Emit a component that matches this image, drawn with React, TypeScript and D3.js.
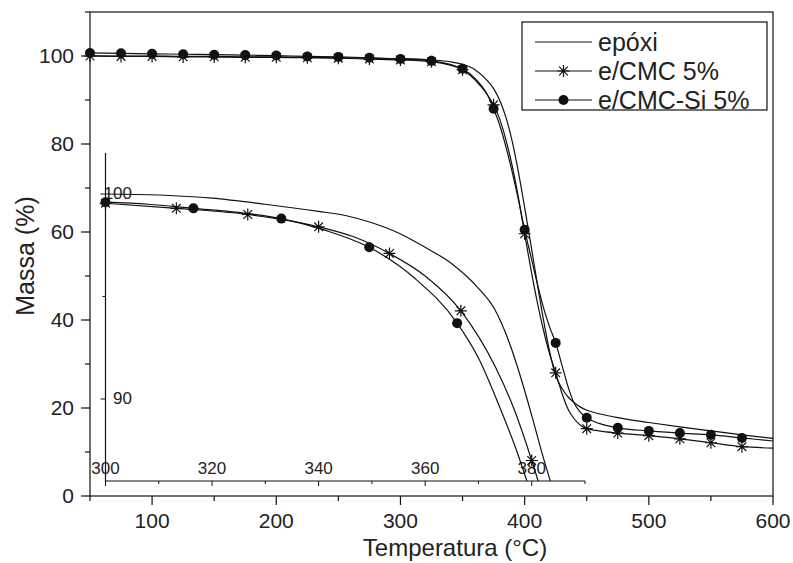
import React, { useRef, useEffect } from 'react';
import * as d3 from 'd3';

// main chart temperatures (°C), shared by the three series
const temps = [50, 75, 100, 125, 150, 175, 200, 225, 250, 275, 300, 325, 340, 350, 360, 370, 375, 380, 385, 390, 395, 400, 405, 410, 415, 420, 425, 430, 435, 440, 445, 450, 460, 475, 500, 525, 550, 575, 600];
const epoxi = [100.1, 100.0, 100.0, 99.9, 99.9, 99.8, 99.8, 99.7, 99.6, 99.5, 99.4, 99.1, 98.7, 98.1, 96.9, 94.4, 92.6, 89.9, 86.0, 80.6, 73.6, 65.6, 57.2, 48.6, 40.3, 33.0, 27.4, 24.5, 22.5, 21.2, 20.2, 19.5, 18.7, 17.8, 16.7, 15.7, 14.8, 13.9, 13.1];
const cmc = [100.0, 99.9, 99.9, 99.8, 99.8, 99.7, 99.7, 99.6, 99.5, 99.3, 99.1, 98.7, 97.9, 96.9, 94.6, 91.2, 88.9, 85.6, 80.9, 75.0, 67.8, 59.6, 51.6, 44.3, 37.9, 32.4, 28.0, 23.4, 19.7, 17.5, 16.1, 15.3, 14.8, 14.3, 13.7, 13.0, 12.1, 11.2, 10.9];
const cmcSi = [100.7, 100.6, 100.5, 100.4, 100.3, 100.2, 100.1, 99.9, 99.8, 99.6, 99.3, 98.9, 98.1, 97.1, 94.9, 91.2, 88.0, 84.2, 79.3, 73.6, 67.3, 60.5, 54.5, 48.5, 43.0, 38.5, 34.8, 29.8, 24.8, 21.0, 19.0, 17.8, 16.5, 15.5, 14.8, 14.3, 13.9, 13.2, 12.5];

// inset (zoom 300-390 °C)
const insetEpoxiT = [300, 310, 320, 330, 340, 345, 350, 355, 360, 365, 370, 373, 376, 378, 380, 382, 383.5];
const insetEpoxiV = [100.0, 99.95, 99.8, 99.5, 99.15, 98.95, 98.6, 98.1, 97.4, 96.6, 95.4, 94.4, 92.6, 91.0, 89.2, 87.3, 86.0];
const insetCmcT = [300, 313.3, 326.7, 340, 346.7, 353.3, 360, 366.7, 373.3, 376.7, 380, 381.2];
const insetCmcV = [99.55, 99.3, 99.0, 98.4, 97.9, 97.1, 96.0, 94.3, 91.5, 89.5, 87.0, 86.0];
const insetCmcMarks = [300, 313.3, 326.7, 340, 353.3, 366.7, 380];
const insetSiT = [300, 308, 316.5, 325, 333, 341, 349.5, 358, 366, 370, 374, 377, 379.1];
const insetSiV = [99.6, 99.5, 99.3, 99.1, 98.8, 98.25, 97.4, 95.9, 93.7, 92.0, 89.6, 87.6, 86.0];
const insetSiMarks = [300, 316.5, 333, 349.5, 366];

const xTicks = [100, 200, 300, 400, 500, 600];
const yTicks = [0, 20, 40, 60, 80, 100];
const insetXTicks = [300, 320, 340, 360, 380];
const insetYTicks = [90, 100];
const legendLabels = ['epóxi', 'e/CMC 5%', 'e/CMC-Si 5%'];

const FONT = '"Liberation Sans", Arial, sans-serif';
const INK = '#111';

const TgaChart = () => {
  const svgRef = useRef<SVGSVGElement>(null);

  useEffect(() => {
    const svg = d3.select(svgRef.current);
    svg.selectAll('*').remove();

    const x = d3.scaleLinear().domain([50, 600]).range([90, 773]);
    const y = d3.scaleLinear().domain([0, 110]).range([496, 12]);
    const ix = d3.scaleLinear().domain([300, 390]).range([105.5, 585]);
    const iy = d3.scaleLinear().domain([86, 102]).range([481, 153]);

    const star = (g, cx, cy, r) => {
      const d = r * 0.72;
      const p = `M${cx - r},${cy}L${cx + r},${cy}M${cx},${cy - r}L${cx},${cy + r}` +
        `M${cx - d},${cy - d}L${cx + d},${cy + d}M${cx - d},${cy + d}L${cx + d},${cy - d}`;
      g.append('path').attr('d', p).attr('stroke', INK).attr('stroke-width', 1.2).attr('fill', 'none');
    };
    const dot = (g, cx, cy, r) => {
      g.append('circle').attr('cx', cx).attr('cy', cy).attr('r', r).attr('fill', INK);
    };

    // frame
    svg.append('rect').attr('x', 90).attr('y', 12).attr('width', 683).attr('height', 484)
      .attr('fill', 'none').attr('stroke', INK).attr('stroke-width', 1.2);

    // main x axis ticks
    const xAxis = svg.append('g');
    d3.range(50, 601, 50).forEach((t) => {
      const major = t % 100 === 0;
      xAxis.append('line').attr('x1', x(t)).attr('x2', x(t)).attr('y1', 496).attr('y2', 496 + (major ? 9 : 5))
        .attr('stroke', INK).attr('stroke-width', 1.2);
    });
    xTicks.forEach((t) => {
      xAxis.append('text').attr('x', x(t)).attr('y', 528).attr('text-anchor', 'middle')
        .attr('font-size', 21).attr('font-family', FONT).attr('fill', '#222').text(t);
    });
    // main y axis ticks
    const yAxis = svg.append('g');
    d3.range(0, 111, 10).forEach((v) => {
      const major = v % 20 === 0;
      yAxis.append('line').attr('x1', 90 - (major ? 9 : 5)).attr('x2', 90).attr('y1', y(v)).attr('y2', y(v))
        .attr('stroke', INK).attr('stroke-width', 1.2);
    });
    yTicks.forEach((v) => {
      yAxis.append('text').attr('x', 74).attr('y', y(v) + 7).attr('text-anchor', 'end')
        .attr('font-size', 21).attr('font-family', FONT).attr('fill', '#222').text(v);
    });

    svg.append('text').attr('x', 455).attr('y', 556).attr('text-anchor', 'middle')
      .attr('font-size', 24).attr('font-family', FONT).attr('fill', '#222').text('Temperatura (°C)');
    svg.append('text').attr('transform', 'translate(34,256) rotate(-90)').attr('text-anchor', 'middle')
      .attr('font-size', 25).attr('font-family', FONT).attr('fill', '#222').text('Massa (%)');

    // main series
    const line = d3.line<[number, number]>().x((d) => x(d[0])).y((d) => y(d[1])).curve(d3.curveMonotoneX);
    const series = [
      { vals: epoxi, mark: null },
      { vals: cmc, mark: 'star' },
      { vals: cmcSi, mark: 'dot' },
    ];
    const main = svg.append('g');
    series.forEach((s) => {
      const pts = temps.map((t, i) => [t, s.vals[i]] as [number, number]);
      main.append('path').attr('d', line(pts)).attr('fill', 'none').attr('stroke', INK).attr('stroke-width', 1.2);
    });
    series.forEach((s) => {
      temps.forEach((t, i) => {
        if (t % 25 !== 0 || t > 575) return;
        if (s.mark === 'star') star(main, x(t), y(s.vals[i]), 6);
        if (s.mark === 'dot') dot(main, x(t), y(s.vals[i]), 5);
      });
    });

    // inset axes
    const inset = svg.append('g');
    inset.append('line').attr('x1', 105.5).attr('x2', 105.5).attr('y1', 153).attr('y2', 481).attr('stroke', INK).attr('stroke-width', 1.2);
    inset.append('line').attr('x1', 105.5).attr('x2', 585).attr('y1', 481).attr('y2', 481).attr('stroke', INK).attr('stroke-width', 1.2);
    d3.range(300, 391, 10).forEach((t) => {
      const major = t % 20 === 0;
      inset.append('line').attr('x1', ix(t)).attr('x2', ix(t)).attr('y1', 481).attr('y2', 481 + (major ? 5 : 3))
        .attr('stroke', INK).attr('stroke-width', 1);
    });
    insetXTicks.forEach((t) => {
      inset.append('text').attr('x', ix(t)).attr('y', 474).attr('text-anchor', 'middle')
        .attr('font-size', 17).attr('font-family', FONT).attr('fill', '#222').text(t);
    });
    [90, 95, 100].forEach((v) => {
      const major = v % 10 === 0;
      inset.append('line').attr('x1', 105.5 - (major ? 5 : 3)).attr('x2', 105.5).attr('y1', iy(v)).attr('y2', iy(v))
        .attr('stroke', INK).attr('stroke-width', 1);
    });
    insetYTicks.forEach((v) => {
      inset.append('text').attr('x', 132).attr('y', iy(v) + 5).attr('text-anchor', 'end')
        .attr('font-size', 17).attr('font-family', FONT).attr('fill', '#222').text(v);
    });

    const iline = d3.line<[number, number]>().x((d) => ix(d[0])).y((d) => iy(d[1])).curve(d3.curveMonotoneX);
    const insetSeries = [
      { t: insetEpoxiT, v: insetEpoxiV },
      { t: insetCmcT, v: insetCmcV },
      { t: insetSiT, v: insetSiV },
    ];
    insetSeries.forEach((s) => {
      const pts = s.t.map((t, i) => [t, s.v[i]] as [number, number]);
      inset.append('path').attr('d', iline(pts)).attr('fill', 'none').attr('stroke', INK).attr('stroke-width', 1.2);
    });
    const interp = (ts, vs, t) => d3.scaleLinear().domain(ts).range(vs)(t);
    insetCmcMarks.forEach((t) => star(inset, ix(t), iy(interp(insetCmcT, insetCmcV, t)), 6));
    insetSiMarks.forEach((t) => dot(inset, ix(t), iy(interp(insetSiT, insetSiV, t)), 5));

    // legend
    const lg = svg.append('g');
    lg.append('rect').attr('x', 522).attr('y', 22).attr('width', 245).attr('height', 88)
      .attr('fill', 'white').attr('stroke', INK).attr('stroke-width', 1.2);
    legendLabels.forEach((lab, i) => {
      const ly = 42 + i * 29;
      lg.append('line').attr('x1', 535).attr('x2', 592).attr('y1', ly).attr('y2', ly).attr('stroke', INK).attr('stroke-width', 1.2);
      if (i === 1) star(lg, 563.5, ly, 6);
      if (i === 2) dot(lg, 563.5, ly, 5);
      lg.append('text').attr('x', 598).attr('y', ly + 9).attr('font-size', 25).attr('font-family', FONT)
        .attr('fill', '#222').text(lab);
    });
  }, []);

  return <svg ref={svgRef} width={793} height={563} style={{ position: 'absolute', left: 0, top: 0, background: 'white' }} />;
};

export default function App() {
  return <TgaChart />;
}
